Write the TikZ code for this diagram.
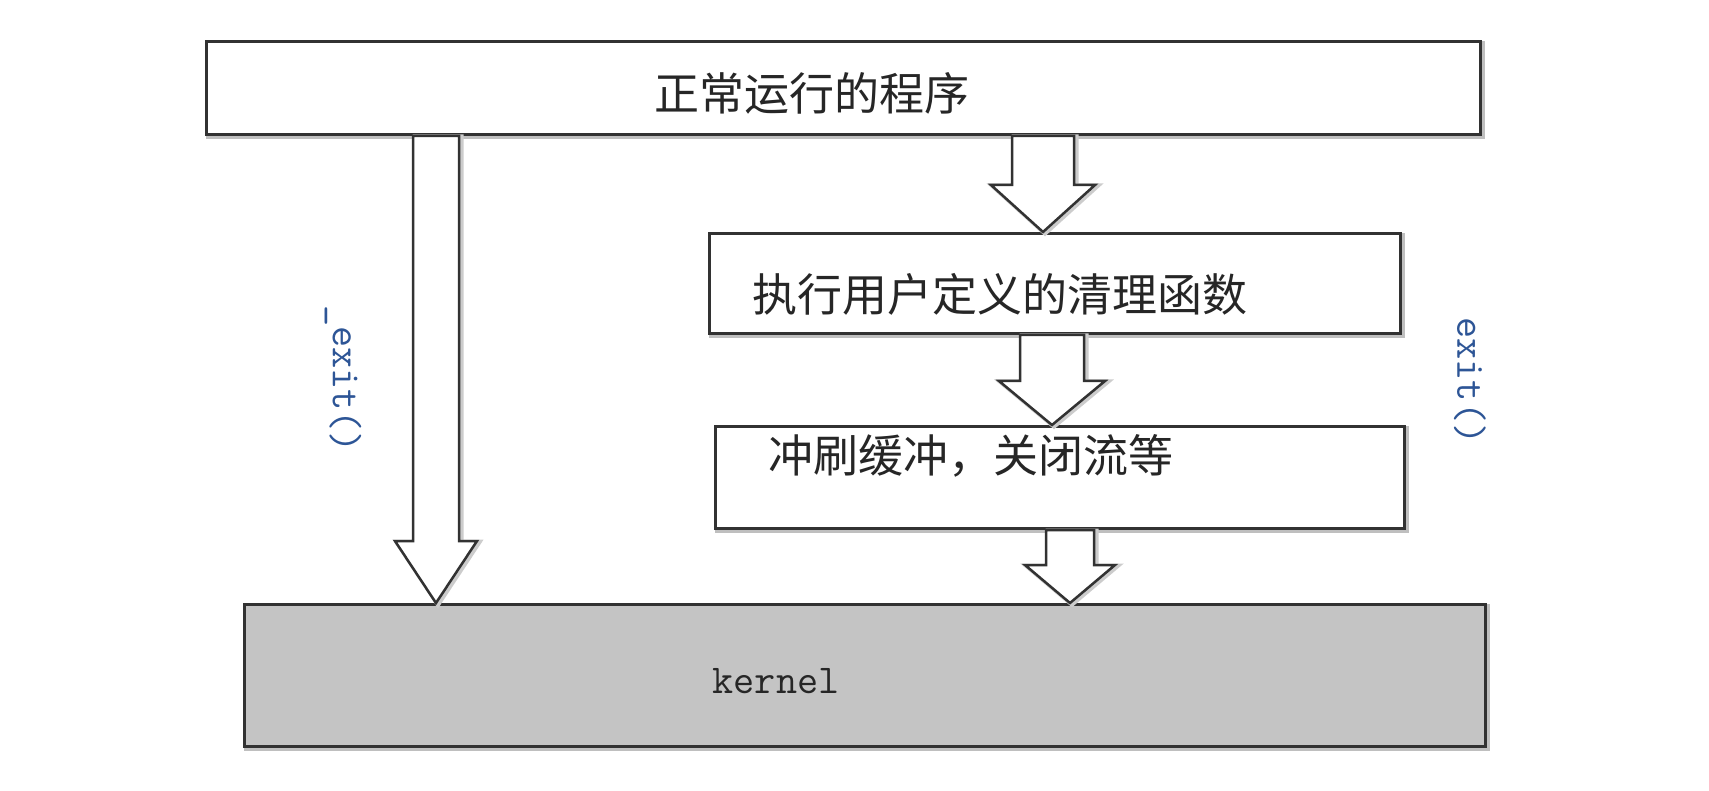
\documentclass[tikz,border=0pt]{standalone}
\usepackage{fontspec}
\newfontfamily\cjk{Noto Sans CJK SC}
\usetikzlibrary{calc}
\definecolor{edge}{RGB}{50,50,50}
\definecolor{kgray}{RGB}{196,196,196}
\definecolor{codeblue}{RGB}{45,85,150}
\tikzset{
  box/.style={draw=edge, line width=3pt, fill=white, inner sep=0pt, anchor=north west,
    preaction={draw=black!25, line width=5pt, transform canvas={xshift=2pt,yshift=-2pt}}},
  kbox/.style={box, fill=kgray},
  blockarrow/.style={draw=edge, line width=2.5pt, fill=white, line join=miter,
    preaction={draw=black!20, line width=5pt, transform canvas={xshift=2pt,yshift=-1pt}}},
  cjktext/.style={font=\cjk\fontsize{45pt}{54pt}\selectfont, inner sep=0pt, text=black!85},
  code/.style={font=\ttfamily\fontsize{41pt}{49pt}\selectfont, inner sep=0pt, text=black!85}
}
% #1 from node, #2 to node, #3 x-coordinate name, #4 shaft half width, #5 head half width, #6 head length
\newcommand\blockarr[6]{%
  \draw[blockarrow] let \p1=(#1.south -| #3), \p2=(#2.north -| #3) in
    (\x1-#4pt,\y1) -- (\x1-#4pt,\y2+#6pt) -- (\x1-#5pt,\y2+#6pt) -- (\x2,\y2)
    -- (\x1+#5pt,\y2+#6pt) -- (\x1+#4pt,\y2+#6pt) -- (\x1+#4pt,\y1) -- cycle;%
}
\begin{document}
\begin{tikzpicture}[x=1pt,y=-1pt]
\useasboundingbox (0,0) rectangle (1709,791);
% boxes
\node[box, minimum width=1274pt, minimum height=93pt] (top) at (205,40) {};
\node[box, minimum width=691pt, minimum height=100pt] (clean) at (708,232) {};
\node[box, minimum width=689pt, minimum height=102pt] (flush) at (714,425) {};
\node[kbox, minimum width=1241pt, minimum height=142pt] (kernel) at (243,603) {};
% arrow x positions
\coordinate (xa) at (436,0);
\coordinate (xb) at (1043,0);
\coordinate (xc) at (1052,0);
\coordinate (xd) at (1070,0);
% arrows
\blockarr{top}{kernel}{xa}{23}{41}{62}
\blockarr{top}{clean}{xb}{31}{52}{47}
\blockarr{clean}{flush}{xc}{32}{53}{44}
\blockarr{flush}{kernel}{xd}{24}{45}{38}
% texts
\node[cjktext] (t1) at (812,93) {正常运行的程序};
\node[cjktext, anchor=west] (t2) at (752,294) {执行用户定义的清理函数};
\node[cjktext, anchor=west] (t3) at (768,456) {冲刷缓冲，关闭流等};
\node[code] (t4) at (776,681) {kernel};
\node[code, text=codeblue, rotate=-90] (t5) at (343,379) {\_exit()};
\node[code, text=codeblue, rotate=-90] (t6) at (1470,381) {exit()};
\end{tikzpicture}
\end{document}
